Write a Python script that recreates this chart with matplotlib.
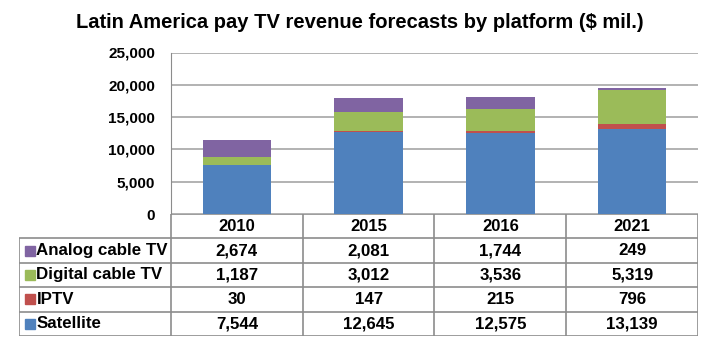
import numpy as np
import matplotlib.pyplot as plt

plt.rcParams['font.family'] = ['Liberation Sans', 'DejaVu Sans']
plt.rcParams['font.weight'] = 'bold'

# data
years = ['2010', '2015', '2016', '2021']
satellite = [7544, 12645, 12575, 13139]
iptv = [30, 147, 215, 796]
digital = [1187, 3012, 3536, 5319]
analog = [2674, 2081, 1744, 249]

series = ['Satellite', 'IPTV', 'Digital cable TV', 'Analog cable TV']
values = [satellite, iptv, digital, analog]
colors = ['#4F81BD', '#C0504D', '#9BBB59', '#8064A2']

W, H = 711, 341
fig = plt.figure(figsize=(W / 100, H / 100), dpi=100)

# pixel layout
plot_l, plot_r, plot_t, plot_b = 171, 698, 52.5, 214
tab_l, tab_b = 19, 336
grid_c = '#A6A6A6'
line_c = '#8C8C8C'

ax = fig.add_axes([plot_l / W, 1 - plot_b / H, (plot_r - plot_l) / W, (plot_b - plot_t) / H])
x = np.arange(len(years))
bottom = np.zeros(len(years))
for name, vals, c in zip(series, values, colors):
    ax.bar(x, vals, 0.52, bottom=bottom, color=c, zorder=3)
    bottom += np.array(vals)

ax.set_xlim(-0.5, len(years) - 0.5)
ax.set_ylim(0, 25000)
ax.set_yticks(np.arange(0, 25001, 5000))
ax.set_yticklabels([f'{v:,}' for v in range(0, 25001, 5000)])
ax.set_xticks([])
ax.tick_params(axis='y', length=0, pad=11.5, labelsize=11)
ax.yaxis.grid(True, color=grid_c, lw=1.2, zorder=0)
for s in ['top', 'right', 'bottom']:
    ax.spines[s].set_visible(False)
ax.spines['left'].set_color(line_c)

fig.text(0.5 * (73 + 647) / W, 1 - 22 / H, 'Latin America pay TV revenue forecasts by platform ($ mil.)',
         ha='center', va='center', fontsize=14.5, fontweight='bold')

# data table below the bars
unit = (plot_r - plot_l) / len(years)
left_units = (plot_l - tab_l) / unit
tx = fig.add_axes([tab_l / W, 1 - tab_b / H, (plot_r - tab_l) / W, (tab_b - plot_b) / H])
tx.set_xlim(-0.5 - left_units, len(years) - 0.5)
tx.set_ylim(0, 5)
tx.axis('off')

rows = list(zip(series, values, colors))[::-1]
n = len(rows)
# horizontal lines
tx.hlines(n + 1 - 0.02, -0.5, len(years) - 0.5, color=line_c, lw=1.2)
for i in range(n + 1):
    tx.hlines(i + (0.02 if i == 0 else 0), -0.5 - left_units, len(years) - 0.5, color=line_c, lw=1.2)
# vertical lines
tx.vlines(-0.5 - left_units, 0, n, color=line_c, lw=1.2)
for j in range(len(years) + 1):
    tx.vlines(j - 0.5, 0, n + 1, color=line_c, lw=1.2)

for j, yr in enumerate(years):
    tx.text(j, n + 0.5, yr, ha='center', va='center', fontsize=12, fontweight='bold')

for i, (name, vals, c) in enumerate(rows):
    yc = n - i - 0.5
    x0 = -0.5 - left_units
    tx.plot([x0 + 11 / unit], [yc], marker='s', ms=7, color=c, ls='none')
    tx.text(x0 + 17.5 / unit, yc, name, ha='left', va='center', fontsize=12.2, fontweight='bold')
    for j, v in enumerate(vals):
        tx.text(j, yc, f'{v:,}', ha='center', va='center', fontsize=12.2, fontweight='bold')

fig.savefig('out.png', dpi=100)
